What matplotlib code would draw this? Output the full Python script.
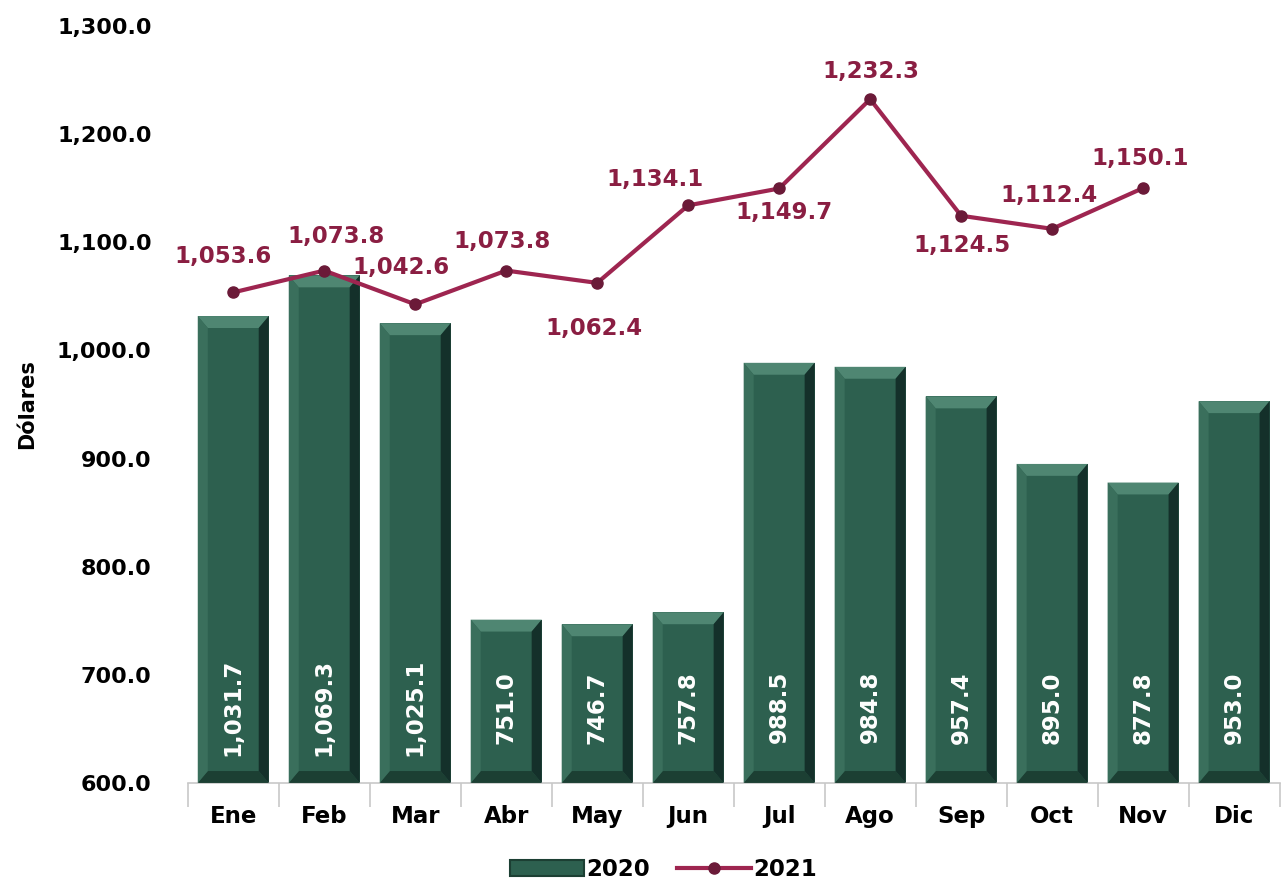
import matplotlib.pyplot as plt
from matplotlib.patches import Polygon, Patch
from matplotlib.lines import Line2D

months = ["Ene", "Feb", "Mar", "Abr", "May", "Jun", "Jul", "Ago", "Sep", "Oct", "Nov", "Dic"]
v2020 = [1031.7, 1069.3, 1025.1, 751.0, 746.7, 757.8, 988.5, 984.8, 957.4, 895.0, 877.8, 953.0]
v2021 = [1053.6, 1073.8, 1042.6, 1073.8, 1062.4, 1134.1, 1149.7, 1232.3, 1124.5, 1112.4, 1150.1]
# label offsets (pixels) for the 2021 labels
lab_off = [(-10, 36), (12, 34), (-14, 37), (-4, 29), (-3, -46), (-33, 26),
           (5, -24), (1, 28), (1, -30), (-3, 33), (-3, 30)]

green = "#2d604f"
green_light = "#4f8672"
green_left = "#3a6f5c"
green_dark = "#1c3f33"
green_darker = "#14302a"
line_col = "#9e2550"
marker_col = "#6b1a38"
text_col = "#8a1e42"

plt.rcParams['font.family'] = 'DejaVu Sans'
plt.rcParams['font.weight'] = 'bold'

fig = plt.figure(figsize=(12.86, 8.83), dpi=100)
ax = fig.add_axes([0.146, 0.1133, 0.849, 0.8573])

ymin = 600
x = list(range(len(months)))
w = 0.78
bars = ax.bar(x, [v - ymin for v in v2020], bottom=ymin, width=w, color=green, zorder=2)

bx, by = 0.11, 11
for b in bars:
    x0 = b.get_x()
    x1 = x0 + b.get_width()
    y0 = b.get_y()
    y1 = y0 + b.get_height()
    ax.add_patch(Polygon([(x0, y1), (x1, y1), (x1 - bx, y1 - by), (x0 + bx, y1 - by)],
                         color=green_light, zorder=3, lw=0))
    ax.add_patch(Polygon([(x0, y0), (x1, y0), (x1 - bx, y0 + by), (x0 + bx, y0 + by)],
                         color=green_dark, zorder=3, lw=0))
    ax.add_patch(Polygon([(x1, y0), (x1, y1), (x1 - bx, y1 - by), (x1 - bx, y0 + by)],
                         color=green_darker, zorder=3, lw=0))
    ax.add_patch(Polygon([(x0, y0), (x0, y1), (x0 + bx, y1 - by), (x0 + bx, y0 + by)],
                         color=green_left, zorder=3, lw=0))

for i, v in enumerate(v2020):
    ax.text(i, 670, f"{v:,.1f}", rotation=90, ha="center", va="center",
            color="white", fontsize=16.5, fontweight="bold", zorder=4)

x21 = x[:len(v2021)]
ax.plot(x21, v2021, color=line_col, lw=3, zorder=5)
ax.plot(x21, v2021, "o", color=marker_col, ms=8, zorder=6)
for i, v in enumerate(v2021):
    dx, dy = lab_off[i]
    ax.annotate(f"{v:,.1f}", (i, v), xytext=(dx, dy), textcoords="offset pixels",
                ha="center", va="center", color=text_col, fontsize=16.5, fontweight="bold")

ax.set_xlim(-0.5, 11.5)
ax.set_ylim(600, 1300)
ax.set_yticks(range(600, 1301, 100))
ax.set_yticklabels([f"{t:,.1f}" for t in range(600, 1301, 100)], fontsize=16, fontweight="bold")
ax.set_xticks(x)
ax.set_xticklabels(months, fontsize=16.5, fontweight="bold")
ax.set_xticks([i + 0.5 for i in range(-1, 12)], minor=True)
ax.tick_params(axis="x", which="major", length=0, pad=16)
ax.tick_params(axis="x", which="minor", length=17, color="#c8c8c8", width=1.2)
ax.tick_params(axis="y", length=0, pad=26)
for s in ["top", "right", "left"]:
    ax.spines[s].set_visible(False)
ax.spines["bottom"].set_color("#c8c8c8")
ax.spines["bottom"].set_linewidth(1.2)
ax.set_ylabel("Dólares", fontsize=15, fontweight="bold")
ax.yaxis.set_label_coords(-0.138, 0.5)

handles = [Patch(facecolor=green, edgecolor=green_dark, lw=1.5),
           Line2D([0], [0], color=line_col, lw=3, marker="o", ms=8,
                  markerfacecolor=marker_col, markeredgecolor=marker_col)]
fig.legend(handles, ["2020", "2021"], loc="center", bbox_to_anchor=(0.516, 0.015),
           ncol=2, frameon=False, prop={"size": 16.5, "weight": "bold"},
           handlelength=3.2, handletextpad=0.1, columnspacing=1.2)

fig.savefig("out.png", dpi=100)
